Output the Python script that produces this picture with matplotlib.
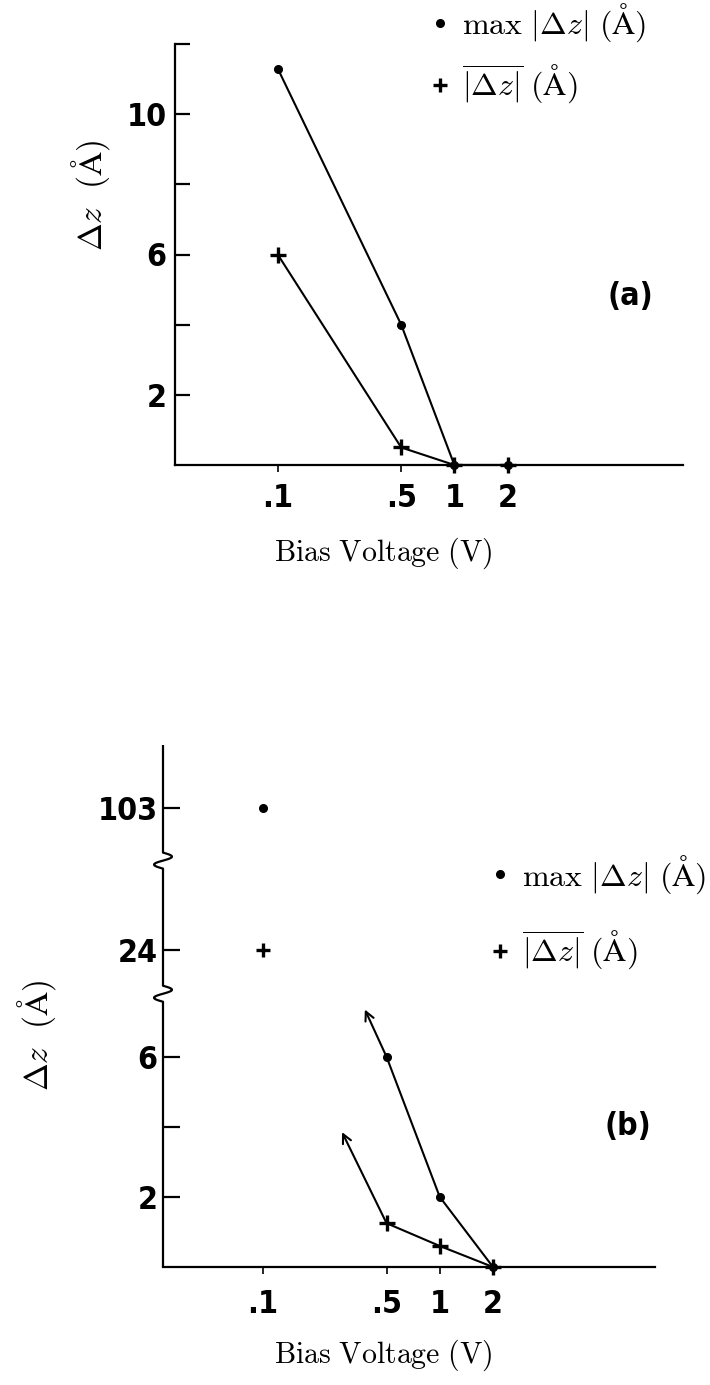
import numpy as np
import matplotlib
matplotlib.use("Agg")
import matplotlib.pyplot as plt
from matplotlib.lines import Line2D
from matplotlib.transforms import IdentityTransform
from matplotlib.ticker import FixedLocator, FixedFormatter, NullLocator
from matplotlib.font_manager import FontProperties

# ---- data -------------------------------------------------------------
bias_ticks = [0.1, 0.5, 1, 2]
bias_tick_labels = [".1", ".5", "1", "2"]

# panel (a)
bias_a = [0.1, 0.5, 1, 2]
max_dz_a = [11.3, 4.0, 0.0, 0.0]
mean_dz_a = [6.0, 0.5, 0.0, 0.0]
yticks_a = [2, 6, 10]
yticks_a_minor = [4, 8, 12]

# panel (b)
bias_b = [0.1, 0.5, 1, 2]
max_dz_b = [103.0, 6.0, 2.0, 0.0]
mean_dz_b = [24.0, 1.25, 0.6, 0.0]
# open-ended trend arrows leaving the 0.5 V points
max_arrow_tip_b = (0.377, 7.35)
mean_arrow_tip_b = (0.28, 3.85)
yticks_b = [2, 6, 24, 103]
yticks_b_minor = [4]

# ---- style ------------------------------------------------------------
plt.rcParams["mathtext.fontset"] = "cm"
TICK_FONT = dict(family=["DejaVu Sans"], weight="bold", stretch="condensed", size=23)
LW_AX = 1.6
LW = 1.5

ylabel = r"$\Delta z\ \ (\mathrm{Å})$"
xlabel = r"$\mathrm{Bias\ Voltage\ (V)}$"
lab_max = r"$\max\ |\Delta z|\ (\mathrm{Å})$"
lab_mean = r"$\overline{|\Delta z|}\ (\mathrm{Å})$"

W, H = 710, 1385
fig = plt.figure(figsize=(W / 100, H / 100), dpi=100)


def px_axes(left, top, right, bottom):
    return fig.add_axes([left / W, 1 - bottom / H, (right - left) / W, (bottom - top) / H])


def style_axes(ax, ymajor, yminor, ylabels):
    for s in ("top", "right"):
        ax.spines[s].set_visible(False)
    for s in ("left", "bottom"):
        ax.spines[s].set_linewidth(LW_AX)
    ax.set_xscale("log")
    ax.xaxis.set_major_locator(FixedLocator(bias_ticks))
    ax.xaxis.set_major_formatter(FixedFormatter(bias_tick_labels))
    ax.xaxis.set_minor_locator(NullLocator())
    ax.yaxis.set_major_locator(FixedLocator(ymajor))
    ax.yaxis.set_major_formatter(FixedFormatter(ylabels))
    ax.yaxis.set_minor_locator(FixedLocator(yminor))
    ax.tick_params(axis="y", which="both", direction="in", length=11, width=LW_AX, pad=6)
    ax.tick_params(axis="x", which="major", direction="out", length=5, width=1.2, pad=8)
    for lab in ax.get_xticklabels() + ax.get_yticklabels():
        lab.set_fontproperties(FontProperties(**TICK_FONT))
    ax.patch.set_alpha(0)


def legend(ax, x, y, spacing):
    h1 = Line2D([], [], ls="none", marker="o", ms=5.5, color="k")
    h2 = Line2D([], [], ls="none", marker="+", ms=10, mew=2.4, color="k")
    ax.legend([h1, h2], [lab_max, lab_mean], loc="upper left",
              bbox_to_anchor=(x / W, 1 - y / H), bbox_transform=fig.transFigure,
              frameon=False, fontsize=23, handlelength=0.6, handletextpad=0.4,
              labelspacing=spacing, borderpad=0, borderaxespad=0)


# ---- panel (a) ---------------------------------------------------------
ax_a = px_axes(175, 44, 683, 465)
ax_a.set_xlim(0.0262, 19.7)
ax_a.set_ylim(0, 12)
style_axes(ax_a, yticks_a, yticks_a_minor, [str(v) for v in yticks_a])
ax_a.plot(bias_a, max_dz_a, color="k", lw=LW, marker="o", ms=5.5, clip_on=False)
ax_a.plot(bias_a, mean_dz_a, color="k", lw=LW, marker="+", ms=11, mew=2.4, clip_on=False)
ax_a.set_xlabel(xlabel, fontsize=21.5)
ax_a.xaxis.set_label_coords((383 - 175) / (683 - 175), -(553 - 465) / (465 - 44))
ax_a.xaxis.label.set_va("center")
ax_a.set_ylabel(ylabel, fontsize=24)
ax_a.yaxis.set_label_coords(-(175 - 112) / (683 - 175), (465 - 195) / (465 - 44))
legend(ax_a, 430, 2, 0.58)
fig.text(630 / W, 1 - 297 / H, "(a)", ha="center", va="center", **TICK_FONT)

# ---- panel (b): broken value axis via a piecewise-linear scale -----------
seg_values = [0, 7.8, 24, 103, 150]
seg_pos = [0, 7.8, 9.05, 13.1, 14.9]


def fwd(v):
    return np.interp(v, seg_values, seg_pos)


def inv(p):
    return np.interp(p, seg_pos, seg_values)


ax_b = px_axes(163, 745, 655, 1267)
ax_b.set_yscale("function", functions=(fwd, inv))
ax_b.set_xlim(0.0272, 16.5)
ax_b.set_ylim(0, 150)
style_axes(ax_b, yticks_b, yticks_b_minor, [str(int(v)) for v in yticks_b])
ax_b.tick_params(axis="y", which="both", length=12, pad=4)
ax_b.tick_params(axis="x", which="major", pad=11)
ax_b.spines["left"].set_visible(False)

ax_b.plot(bias_b[1:], max_dz_b[1:], color="k", lw=LW, marker="o", ms=5.5, clip_on=False)
ax_b.plot(bias_b[1:], mean_dz_b[1:], color="k", lw=LW, marker="+", ms=11, mew=2.4, clip_on=False)
ax_b.plot(bias_b[:1], max_dz_b[:1], ls="none", color="k", marker="o", ms=5.5)
ax_b.plot(bias_b[:1], mean_dz_b[:1], ls="none", color="k", marker="+", ms=10, mew=2.4)
for tip, x0, y0 in ((max_arrow_tip_b, bias_b[1], max_dz_b[1]),
                    (mean_arrow_tip_b, bias_b[1], mean_dz_b[1])):
    ax_b.annotate("", xy=tip, xytext=(x0, y0),
                  arrowprops=dict(arrowstyle="->", lw=LW, color="k",
                                  mutation_scale=16, shrinkA=0, shrinkB=0))
ax_b.set_xlabel(xlabel, fontsize=21.5)
ax_b.xaxis.set_label_coords((383 - 163) / (655 - 163), -(1355 - 1267) / (1267 - 745))
ax_b.xaxis.label.set_va("center")
ax_b.set_ylabel(ylabel, fontsize=24)
ax_b.yaxis.set_label_coords(-(163 - 58) / (655 - 163), (1267 - 1035) / (1267 - 745))
legend(ax_b, 490, 853, 1.05)
fig.text(628 / W, 1 - 1127 / H, "(b)", ha="center", va="center", **TICK_FONT)

# left axis of (b) drawn by hand with two break squiggles
x_sp = ax_b.transAxes.transform((0, 0))[0]
y_of = lambda v: ax_b.transData.transform((1.0, v))[1]
y_bot, y_top = y_of(0), y_of(150)
breaks = [y_of(7.8), y_of(inv(11.6))]
xs, ys = [x_sp], [y_bot]
t = np.linspace(0, 1, 25)
for yb in breaks:
    xs += list(x_sp - 9 * np.sin(2 * np.pi * t))
    ys += list(yb - 8 + 16 * t)
xs.append(x_sp)
ys.append(y_top)
fig.add_artist(Line2D(xs, ys, color="k", lw=LW_AX, transform=IdentityTransform(),
                      solid_capstyle="butt"))

fig.savefig("out.png", dpi=100, facecolor="white")
